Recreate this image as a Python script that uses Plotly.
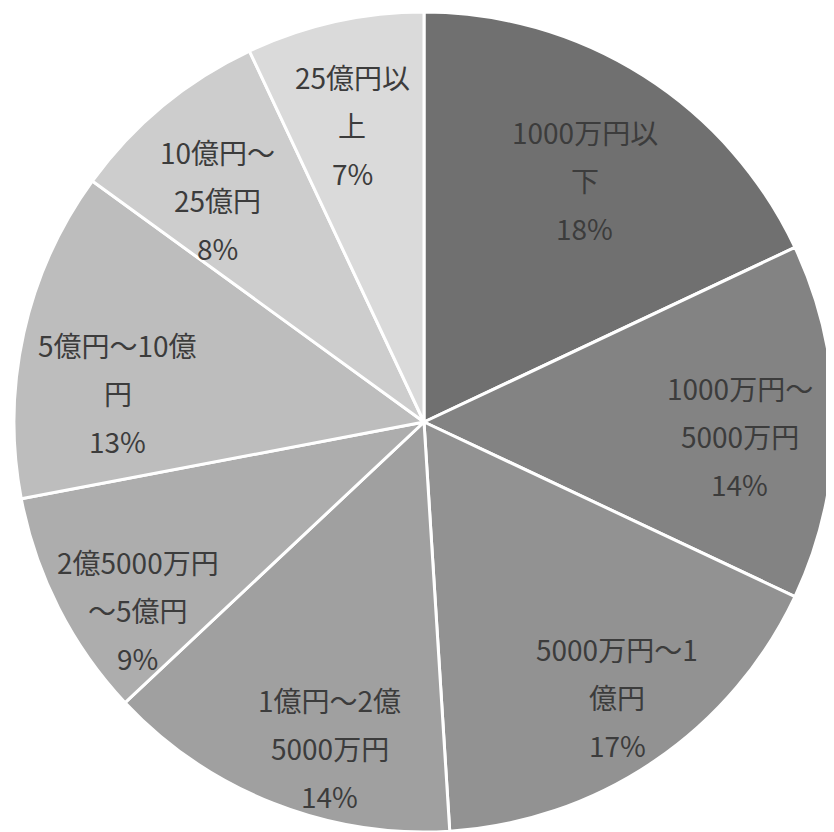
import math
import plotly.graph_objects as go

# ---- data ----
categories = ["1000万円以下", "1000万円～5000万円", "5000万円～1億円", "1億円～2億5000万円",
              "2億5000万円～5億円", "5億円～10億円", "10億円～25億円", "25億円以上"]
shares = [18, 14, 17, 14, 9, 13, 8, 7]
label_lines = [["1000万円以", "下"], ["1000万円～", "5000万円"], ["5000万円～1", "億円"],
               ["1億円～2億", "5000万円"], ["2億5000万円", "～5億円"], ["5億円～10億", "円"],
               ["10億円～", "25億円"], ["25億円以", "上"]]

# ---- style / layout ----
colors = ["#707070", "#838383", "#929292", "#a0a0a0", "#adadad", "#bdbdbd", "#cdcdcd", "#dadada"]
label_radius = [0.709, 0.771, 0.819, 0.828, 0.835, 0.75, 0.739, 0.745]
label_angle_nudge = [1.2, 2.5, -0.9, -5.5, -6.3, -7.2, -3.3, -1.0]
W, H = 834, 832
cx, cy, R = 416, 414, 410   # pie centre / radius in figure pixels
line_gap = 48
font_family = "Noto Sans CJK JP, Noto Sans, sans-serif"
text_color = "#3c3c3c"

fig = go.Figure(go.Pie(
    labels=categories,
    values=shares,
    sort=False,
    direction="clockwise",
    rotation=0,
    textinfo="none",
    hoverinfo="label+percent",
    marker=dict(colors=colors, line=dict(color="white", width=3)),
    domain=dict(x=[(cx - R) / W, (cx + R) / W], y=[1 - (cy + R) / H, 1 - (cy - R) / H]),
    showlegend=False,
))

total = sum(shares)
annotations = []
cum = 0
for i, v in enumerate(shares):
    mid = (cum + v / 2) / total * 360 + label_angle_nudge[i]
    cum += v
    th = math.radians(mid)
    px = cx + label_radius[i] * R * math.sin(th)
    py = cy - label_radius[i] * R * math.cos(th)
    lines = label_lines[i] + [f"{round(v / total * 100)}%"]
    for j, t in enumerate(lines):
        annotations.append(dict(
            x=px / W, y=1 - py / H, xref="paper", yref="paper",
            text=t, showarrow=False, xanchor="center", yanchor="middle",
            yshift=(1 - j) * line_gap,
            font=dict(family=font_family, size=28, color=text_color),
        ))

fig.update_layout(
    width=W, height=H,
    margin=dict(l=0, r=0, t=0, b=0),
    paper_bgcolor="white",
    plot_bgcolor="white",
    annotations=annotations,
)

fig.write_html("out.html")
